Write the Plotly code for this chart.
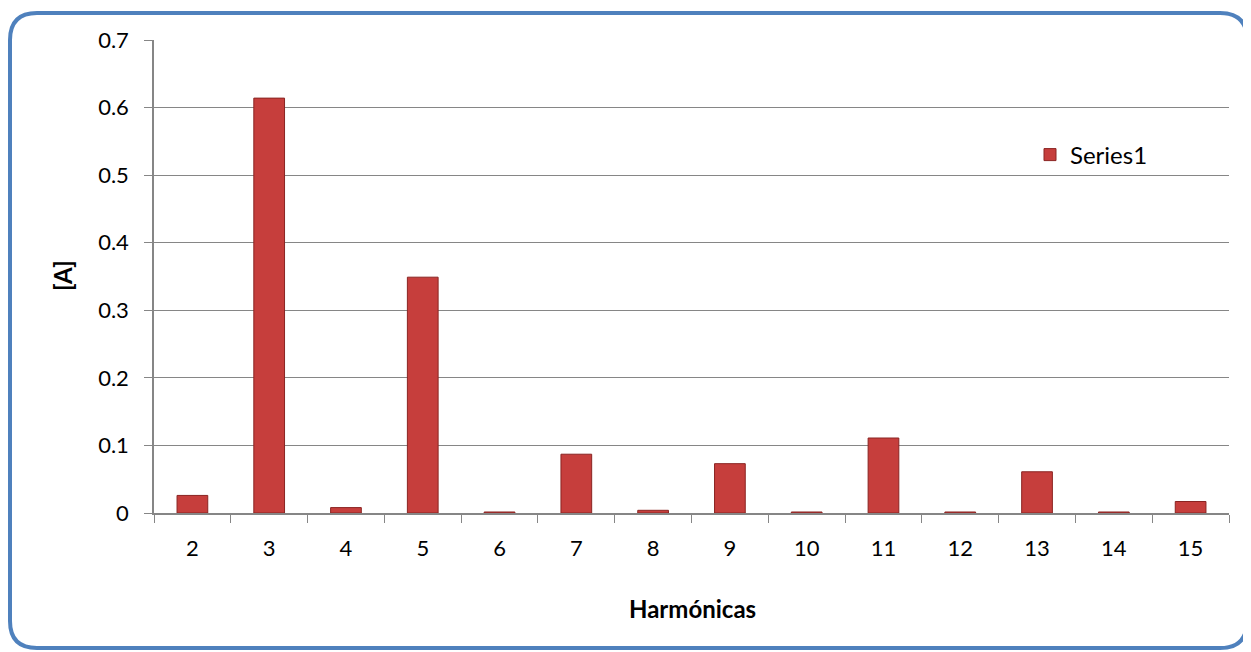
import plotly.graph_objects as go

harmonics = ["2", "3", "4", "5", "6", "7", "8", "9", "10", "11", "12", "13", "14", "15"]
current_a = [0.026, 0.614, 0.008, 0.349, 0.0015, 0.087, 0.004, 0.073, 0.0015, 0.111, 0.0015, 0.061, 0.0015, 0.017]
y_ticks = [0, 0.1, 0.2, 0.3, 0.4, 0.5, 0.6, 0.7]
y_tick_labels = ["0", "0.1", "0.2", "0.3", "0.4", "0.5", "0.6", "0.7"]

OFF = 8  # default page body margin
W, H = 1251 - OFF, 652 - OFF
PL, PR, PT, PB = 154, 1229, 40, 513  # plot area in page pixels
L, T = PL - OFF, PT - OFF
R = W - (PR - OFF)
B = H - (PB - OFF)
pw, ph = PR - PL, PB - PT

def px(x):
    return (x - PL) / pw

def py(y):
    return (PB - y) / ph

FONT = "Lato"

fig = go.Figure()
fig.add_trace(go.Bar(
    x=harmonics, y=current_a, name="Series1",
    marker=dict(color="#C63E3C", line=dict(color="#8A2422", width=1)),
    showlegend=True,
))

# rounded border (page pixel coordinates converted to paper)
x0, x1, y0, y1, r = 10, 1247, 13, 648, 27
path = (f"M {px(x0+r)},{py(y0)} L {px(x1-r)},{py(y0)} Q {px(x1)},{py(y0)} {px(x1)},{py(y0+r)} "
        f"L {px(x1)},{py(y1-r)} Q {px(x1)},{py(y1)} {px(x1-r)},{py(y1)} "
        f"L {px(x0+r)},{py(y1)} Q {px(x0)},{py(y1)} {px(x0)},{py(y1-r)} "
        f"L {px(x0)},{py(y0+r)} Q {px(x0)},{py(y0)} {px(x0+r)},{py(y0)} Z")
fig.add_shape(type="path", path=path, xref="paper", yref="paper",
              line=dict(color="#4F81BD", width=4), layer="below")

fig.add_annotation(text="<b>Harmónicas</b>", xref="paper", yref="paper",
                   x=px(692), y=py(608), xanchor="center", yanchor="middle",
                   showarrow=False, font=dict(size=24, family=FONT))
fig.add_annotation(text="<b>[A]</b>", xref="paper", yref="paper",
                   x=px(62), y=py(276), xanchor="center", yanchor="middle",
                   textangle=-90, showarrow=False, font=dict(size=24, family=FONT))

fig.update_layout(
    width=W, height=H,
    margin=dict(l=L, r=R, t=T, b=B, pad=0, autoexpand=False),
    paper_bgcolor="white", plot_bgcolor="white",
    font=dict(family=FONT, size=22, color="black"),
    bargap=0.6,
    legend=dict(x=px(1030), y=py(155), xanchor="left", yanchor="middle",
                bgcolor="rgba(0,0,0,0)", font=dict(size=24),
                itemwidth=30, tracegroupgap=0),
    xaxis=dict(
        type="category", showgrid=False, showline=True, linecolor="#868686", linewidth=1.5,
        ticks="outside", ticklen=8, tickcolor="#868686", tickson="boundaries",
        ticklabelstandoff=15,
    ),
    yaxis=dict(
        range=[0, 0.7], tickvals=y_ticks, ticktext=y_tick_labels,
        showgrid=True, gridcolor="#868686", gridwidth=1.2,
        showline=True, linecolor="#868686", linewidth=1.5,
        ticks="outside", ticklen=8, tickcolor="#868686",
        ticklabelstandoff=11, zeroline=False,
    ),
)

fig.write_html("out.html")
